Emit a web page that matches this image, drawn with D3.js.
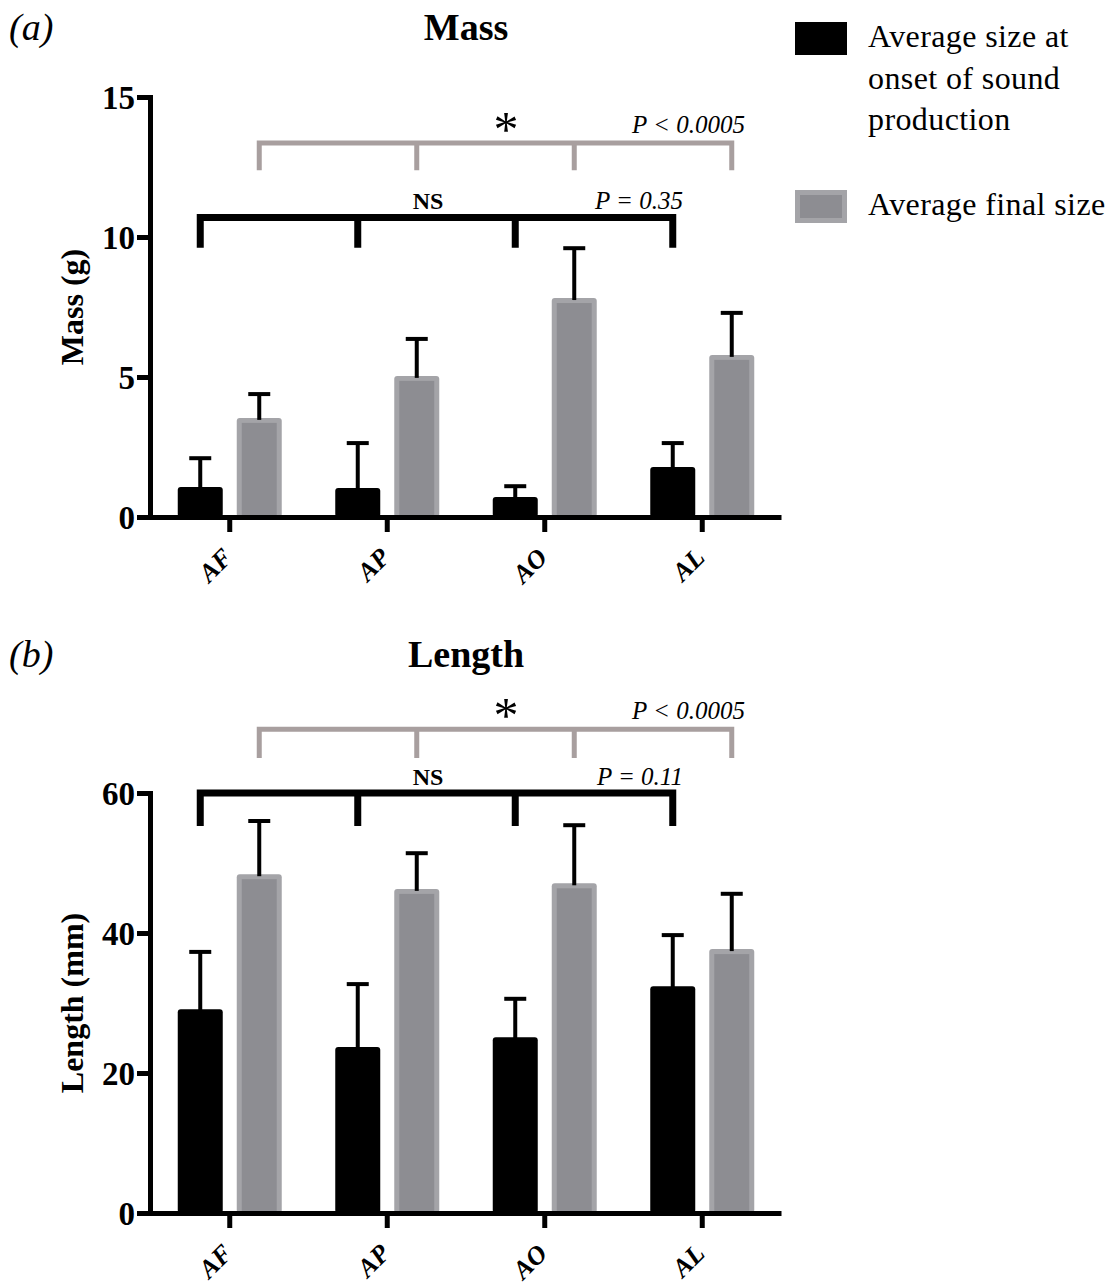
<!DOCTYPE html>
<html>
<head>
<meta charset="utf-8">
<script src="https://cdn.jsdelivr.net/npm/d3@7"></script>
<style>
  body { margin: 0; background: #fff; }
  svg { display: block; }
  text { font-family: "Liberation Serif", "Times New Roman", serif; fill: #000; }
</style>
</head>
<body>
<svg id="chart" width="1112" height="1285"></svg>
<script>
// ---- data -------------------------------------------------------------
const categories = ["AF", "AP", "AO", "AL"];
const seriesKeys = ["onset", "final"];
const legendLabels = [["Average size at", "onset of sound", "production"], ["Average final size"]];

const massOnset   = [1.07, 1.04, 0.71, 1.79];
const massOnsetSD = [1.03, 1.60, 0.39, 0.85];
const massFinal   = [3.54, 5.04, 7.82, 5.79];
const massFinalSD = [0.85, 1.32, 1.78, 1.50];

const lengthOnset   = [29.1, 23.7, 25.1, 32.4];
const lengthOnsetSD = [8.2, 9.0, 5.5, 7.3];
const lengthFinal   = [48.4, 46.3, 47.1, 37.7];
const lengthFinalSD = [7.6, 5.1, 8.3, 7.9];

const massTicks = [0, 5, 10, 15];
const lengthTicks = [0, 20, 40, 60];

const massTests = { onset: "P = 0.35", final: "P < 0.0005" };
const lengthTests = { onset: "P = 0.11", final: "P < 0.0005" };

// ---- styling ------------------------------------------------------------
const BLACK = "#000";
const GRAY_EDGE = "#a4a4a8";
const GRAY_FILL = "#8d8d92";
const BRACKET_GRAY = "#a89f9f";
const SERIF = "'Liberation Serif', 'Times New Roman', serif";

const svg = d3.select("#chart");

const x = d3.scaleBand().domain(categories).range([151, 781]);
const xs = d3.scaleBand().domain(seriesKeys).range([-52, 52]).paddingInner(14 / 59);

const panels = [
  {
    tag: "(a)", title: "Mass", yLabel: "Mass (g)",
    onset: massOnset, onsetSD: massOnsetSD, final: massFinal, finalSD: massFinalSD,
    ticks: massTicks, max: 15, range: [517, 97], titleY: 40,
    tests: massTests,
    grayLevel: [13.36, 12.38], blackLevel: [10.7, 9.62]
  },
  {
    tag: "(b)", title: "Length", yLabel: "Length (mm)",
    onset: lengthOnset, onsetSD: lengthOnsetSD, final: lengthFinal, finalSD: lengthFinalSD,
    ticks: lengthTicks, max: 60, range: [1213, 793], titleY: 667,
    tests: lengthTests,
    grayLevel: [69.1, 65.0], blackLevel: [60.0, 55.3]
  }
];

function drawPanel(p) {
  const y = d3.scaleLinear().domain([0, p.max]).range(p.range);
  const g = svg.append("g");

  // panel tag and title
  g.append("text").attr("x", 9).attr("y", p.titleY)
    .attr("font-size", 38).attr("font-style", "italic").text(p.tag);
  g.append("text").attr("x", 466).attr("y", p.titleY)
    .attr("text-anchor", "middle").attr("font-size", 38).attr("font-weight", "bold").text(p.title);

  // y label
  const yMid = (p.range[0] + p.range[1]) / 2;
  g.append("text")
    .attr("transform", `translate(83,${yMid}) rotate(-90)`)
    .attr("text-anchor", "middle").attr("font-size", 32).attr("font-weight", "bold")
    .text(p.yLabel);

  // bars
  const rows = categories.map((c, i) => ({
    cat: c,
    onset: p.onset[i], onsetSD: p.onsetSD[i],
    final: p.final[i], finalSD: p.finalSD[i]
  }));

  const bw = xs.bandwidth();
  const cx = (d, k) => x(d.cat) + x.bandwidth() / 2 + xs(k);

  // onset bars (black)
  g.selectAll(".onset").data(rows).join("rect")
    .attr("x", d => cx(d, "onset"))
    .attr("y", d => y(d.onset))
    .attr("width", bw)
    .attr("height", d => y(0) - y(d.onset))
    .attr("rx", 3).attr("fill", BLACK);

  // final bars (gray, light rim)
  g.selectAll(".finalOuter").data(rows).join("rect")
    .attr("x", d => cx(d, "final"))
    .attr("y", d => y(d.final))
    .attr("width", bw)
    .attr("height", d => y(0) - y(d.final))
    .attr("rx", 3).attr("fill", GRAY_EDGE);
  g.selectAll(".finalInner").data(rows).join("rect")
    .attr("x", d => cx(d, "final") + 5)
    .attr("y", d => y(d.final) + 5)
    .attr("width", bw - 10)
    .attr("height", d => y(0) - y(d.final) - 5)
    .attr("fill", GRAY_FILL);

  // upper error bars
  seriesKeys.forEach(k => {
    rows.forEach(d => {
      const mx = cx(d, k) + bw / 2;
      const top = y(d[k] + d[k + "SD"]);
      g.append("line").attr("x1", mx).attr("x2", mx)
        .attr("y1", y(d[k]) + 2).attr("y2", top)
        .attr("stroke", BLACK).attr("stroke-width", 4);
      g.append("line").attr("x1", mx - 11).attr("x2", mx + 11)
        .attr("y1", top).attr("y2", top)
        .attr("stroke", BLACK).attr("stroke-width", 4);
    });
  });

  // axes
  const yAxis = g.append("g").attr("transform", "translate(150,0)")
    .call(d3.axisLeft(y).tickValues(p.ticks).tickSize(13).tickSizeOuter(0).tickPadding(2));
  yAxis.select(".domain").attr("stroke", BLACK).attr("stroke-width", 5).attr("stroke-linecap", "square");
  yAxis.selectAll(".tick line").attr("stroke", BLACK).attr("stroke-width", 5);
  yAxis.selectAll(".tick text")
    .attr("font-family", SERIF).attr("font-size", 33).attr("font-weight", "bold")
    .attr("fill", BLACK).attr("dy", "0.34em");

  const xAxis = g.append("g").attr("transform", `translate(0,${y(0)})`)
    .call(d3.axisBottom(x).tickSize(15).tickSizeOuter(0).tickFormat(""));
  xAxis.select(".domain").attr("stroke", BLACK).attr("stroke-width", 5);
  xAxis.selectAll(".tick line").attr("stroke", BLACK).attr("stroke-width", 5);

  // rotated category labels
  g.selectAll(".catLabel").data(categories).join("text")
    .attr("transform", c => `translate(${x(c) + x.bandwidth() / 2 + 4},${y(0) + 42}) rotate(-45)`)
    .attr("text-anchor", "end").attr("font-size", 26)
    .attr("font-weight", "bold").attr("font-style", "italic")
    .text(c => c);

  // comparison brackets
  const bracket = (key, level, color, width) => {
    const xsPos = rows.map(d => cx(d, key) + bw / 2);
    const yTop = y(level[0]), yDrop = y(level[1]);
    let path = `M${xsPos[0]},${yDrop}V${yTop}H${xsPos[xsPos.length - 1]}V${yDrop}`;
    xsPos.slice(1, -1).forEach(px => { path += `M${px},${yTop}V${yDrop}`; });
    g.append("path").attr("d", path).attr("fill", "none")
      .attr("stroke", color).attr("stroke-width", width).attr("stroke-linejoin", "miter");
    return { xsPos, yTop };
  };

  const gb = bracket("final", p.grayLevel, BRACKET_GRAY, 5);
  g.append("text").attr("x", 506).attr("y", gb.yTop + 3)
    .attr("text-anchor", "middle").attr("font-size", 50).text("*");
  g.append("text").attr("x", 745).attr("y", gb.yTop - 10)
    .attr("text-anchor", "end").attr("font-size", 25).attr("font-style", "italic").text(p.tests.final);

  const bb = bracket("onset", p.blackLevel, BLACK, 7);
  g.append("text").attr("x", 428).attr("y", bb.yTop - 8)
    .attr("text-anchor", "middle").attr("font-size", 24).attr("font-weight", "bold").text("NS");
  g.append("text").attr("x", 683).attr("y", bb.yTop - 8)
    .attr("text-anchor", "end").attr("font-size", 25).attr("font-style", "italic").text(p.tests.onset);
}

panels.forEach(drawPanel);

// ---- legend -------------------------------------------------------------
const legend = svg.append("g");
legend.append("rect").attr("x", 795).attr("y", 22).attr("width", 52).attr("height", 33).attr("fill", BLACK);
legend.append("rect").attr("x", 795).attr("y", 190).attr("width", 52).attr("height", 33).attr("fill", GRAY_EDGE);
legend.append("rect").attr("x", 800).attr("y", 195).attr("width", 42).attr("height", 23).attr("fill", GRAY_FILL);

const legendBaselines = [[47, 88.5, 130], [215]];
legendLabels.forEach((lines, i) => {
  lines.forEach((line, j) => {
    legend.append("text").attr("x", 868).attr("y", legendBaselines[i][j])
      .attr("font-size", 32).attr("letter-spacing", 0.4).text(line);
  });
});
</script>
</body>
</html>
